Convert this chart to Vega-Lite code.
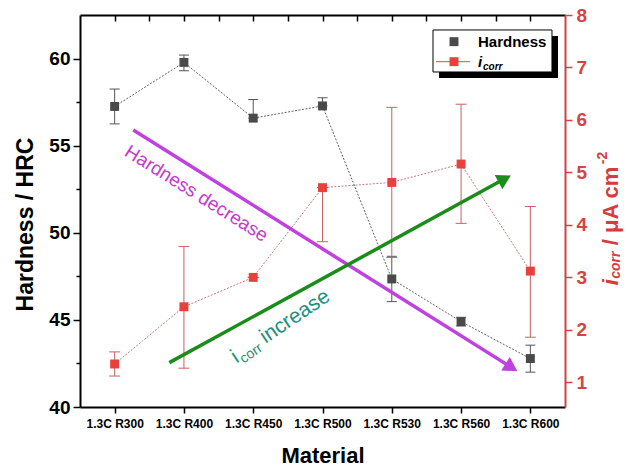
{
  "$schema": "https://vega.github.io/schema/vega-lite/v6.json",
  "width": 485,
  "height": 392,
  "autosize": "none",
  "padding": {"left": 80, "top": 15, "right": 62, "bottom": 61},
  "background": "white",
  "config": {"view": {"stroke": null}, "font": "Liberation Sans", "text": {"font": "Liberation Sans"}},
  "datasets": {
    "hard": [
      {"i": 0, "v": 57.25, "lo": 56.25, "hi": 58.25},
      {"i": 1, "v": 59.78, "lo": 59.3, "hi": 60.2},
      {"i": 2, "v": 56.58, "lo": 56.58, "hi": 57.65},
      {"i": 3, "v": 57.28, "lo": 57.28, "hi": 57.75},
      {"i": 4, "v": 47.35, "lo": 46.05, "hi": 48.65},
      {"i": 5, "v": 44.9, "lo": 44.65, "hi": 45.15},
      {"i": 6, "v": 42.78, "lo": 42.0, "hi": 43.55}
    ],
    "icorr": [
      {"i": 0, "v": 1.35, "lo": 1.12, "hi": 1.58},
      {"i": 1, "v": 2.44, "lo": 1.27, "hi": 3.59},
      {"i": 2, "v": 3.0, "lo": 3.0, "hi": 3.0},
      {"i": 3, "v": 4.71, "lo": 3.68, "hi": 4.71},
      {"i": 4, "v": 4.81, "lo": 3.38, "hi": 6.24},
      {"i": 5, "v": 5.16, "lo": 4.03, "hi": 6.3},
      {"i": 6, "v": 3.12, "lo": 1.86, "hi": 4.35}
    ]
  },
  "layer": [
    {
      "layer": [
        {
          "data": {"name": "hard"},
          "mark": {"type": "line", "color": "#3a3a3a", "strokeWidth": 0.8, "strokeDash": [2, 1.5]},
          "encoding": {
            "x": {"field": "i", "type": "quantitative", "scale": {"domain": [-0.5, 6.5], "nice": false, "zero": false},
              "axis": {"orient": "bottom", "title": "Material", "values": [0, 1, 2, 3, 4, 5, 6],
                "labelExpr": "['1.3C R300','1.3C R400','1.3C R450','1.3C R500','1.3C R530','1.3C R560','1.3C R600'][datum.value]",
                "labelFontSize": 12, "labelFontWeight": "bold", "labelColor": "#000", "labelPadding": 5, "labelFlush": false, "labelOverlap": false, "labelBound": false,
                "tickSize": 6, "tickColor": "#000", "tickWidth": 1.5, "domainColor": "#000", "domainWidth": 2, "grid": false,
                "titleFontSize": 22, "titleFontWeight": "bold", "titleColor": "#000", "titleY": 48, "titleBaseline": "middle"}},
            "y": {"field": "v", "type": "quantitative", "scale": {"domain": [40, 62.5], "nice": false, "zero": false},
              "axis": {"orient": "left", "title": "Hardness / HRC", "values": [40, 42.5, 45, 47.5, 50, 52.5, 55, 57.5, 60],
                "labelExpr": "datum.value % 5 === 0 ? datum.label : ''",
                "labelFontSize": 19, "labelFontWeight": "bold", "labelColor": "#000", "labelPadding": 3, "labelFlush": false, "labelOverlap": false, "labelBound": false,
                "tickSize": {"condition": {"test": "datum.value % 5 === 0", "value": 7}, "value": 4},
                "tickColor": "#000", "tickWidth": 1.5, "domainColor": "#000", "domainWidth": 2, "grid": false,
                "titleFontSize": 23, "titleFontWeight": "bold", "titleColor": "#000", "titleX": -55, "titleY": 209, "titleBaseline": "middle"}}
          }
        },
        {
          "data": {"name": "hard"},
          "mark": {"type": "rule", "color": "#555555", "strokeWidth": 1},
          "encoding": {"x": {"field": "i", "type": "quantitative"}, "y": {"field": "lo", "type": "quantitative"}, "y2": {"field": "hi"}}
        },
        {
          "data": {"name": "hard"},
          "mark": {"type": "tick", "orient": "horizontal", "size": 10, "thickness": 1, "color": "#555555", "opacity": 1},
          "encoding": {"x": {"field": "i", "type": "quantitative"}, "y": {"field": "lo", "type": "quantitative"}}
        },
        {
          "data": {"name": "hard"},
          "mark": {"type": "tick", "orient": "horizontal", "size": 10, "thickness": 1, "color": "#555555", "opacity": 1},
          "encoding": {"x": {"field": "i", "type": "quantitative"}, "y": {"field": "hi", "type": "quantitative"}}
        },
        {
          "data": {"name": "hard"},
          "mark": {"type": "square", "size": 80, "color": "#4a4a4a", "opacity": 1},
          "encoding": {"x": {"field": "i", "type": "quantitative"}, "y": {"field": "v", "type": "quantitative"}}
        },
        {
          "data": {"values": [{"x": 0.269, "y": 55.9, "x2": 5.727, "y2": 42.27}]},
          "mark": {"type": "rule", "color": "#c040e0", "strokeWidth": 3.5},
          "encoding": {"x": {"field": "x", "type": "quantitative"}, "y": {"field": "y", "type": "quantitative"}, "x2": {"field": "x2"}, "y2": {"field": "y2"}}
        },
        {
          "data": {"values": [{"x": 5.727, "y": 42.27}]},
          "mark": {"type": "point", "shape": "triangle-right", "filled": true, "size": 260, "angle": 32, "color": "#c040e0", "opacity": 1},
          "encoding": {"x": {"field": "x", "type": "quantitative"}, "y": {"field": "y", "type": "quantitative"}}
        },
        {
          "data": {"values": [{"x": 1.18, "y": 52.25, "t": "Hardness decrease"}]},
          "mark": {"type": "text", "angle": 32, "fontSize": 19, "color": "#c838d0", "align": "center", "baseline": "middle"},
          "encoding": {"x": {"field": "x", "type": "quantitative"}, "y": {"field": "y", "type": "quantitative"}, "text": {"field": "t"}}
        },
        {
          "data": {"values": [{"x": 4.682, "x2": 6.399, "y": 58.89, "y2": 61.3}]},
          "mark": {"type": "rect", "color": "#000000", "opacity": 1},
          "encoding": {"x": {"field": "x", "type": "quantitative"}, "x2": {"field": "x2"}, "y": {"field": "y", "type": "quantitative"}, "y2": {"field": "y2"}}
        },
        {
          "data": {"values": [{"x": 4.595, "x2": 6.312, "y": 59.23, "y2": 61.64}]},
          "mark": {"type": "rect", "fill": "#ffffff", "stroke": "#000000", "strokeWidth": 1, "opacity": 1},
          "encoding": {"x": {"field": "x", "type": "quantitative"}, "x2": {"field": "x2"}, "y": {"field": "y", "type": "quantitative"}, "y2": {"field": "y2"}}
        },
        {
          "data": {"values": [{"x": 4.638, "x2": 5.128, "y": 59.82}]},
          "mark": {"type": "rule", "color": "#d05050", "strokeWidth": 1},
          "encoding": {"x": {"field": "x", "type": "quantitative"}, "x2": {"field": "x2"}, "y": {"field": "y", "type": "quantitative"}}
        },
        {
          "data": {"values": [{"x": 4.898, "y": 60.97, "s": "Hardness"}, {"x": 4.898, "y": 59.82, "s": "icorr"}]},
          "mark": {"type": "square", "size": 80, "opacity": 1},
          "encoding": {"x": {"field": "x", "type": "quantitative"}, "y": {"field": "y", "type": "quantitative"},
            "color": {"field": "s", "type": "nominal", "scale": {"domain": ["Hardness", "icorr"], "range": ["#4a4a4a", "#e8403c"]}, "legend": null}}
        },
        {
          "data": {"values": [{"x": 5.244, "y": 60.97, "t": "Hardness"}]},
          "mark": {"type": "text", "fontSize": 15, "fontWeight": "bold", "color": "#000", "align": "left", "baseline": "middle"},
          "encoding": {"x": {"field": "x", "type": "quantitative"}, "y": {"field": "y", "type": "quantitative"}, "text": {"field": "t"}}
        },
        {
          "data": {"values": [{"x": 5.244, "y": 59.82, "t": "i"}]},
          "mark": {"type": "text", "fontSize": 15, "fontWeight": "bold", "fontStyle": "italic", "color": "#000", "align": "left", "baseline": "middle"},
          "encoding": {"x": {"field": "x", "type": "quantitative"}, "y": {"field": "y", "type": "quantitative"}, "text": {"field": "t"}}
        },
        {
          "data": {"values": [{"x": 5.244, "y": 59.82, "t": "corr"}]},
          "mark": {"type": "text", "fontSize": 10, "fontWeight": "bold", "fontStyle": "italic", "color": "#000", "align": "left", "baseline": "middle", "dx": 5, "dy": 5},
          "encoding": {"x": {"field": "x", "type": "quantitative"}, "y": {"field": "y", "type": "quantitative"}, "text": {"field": "t"}}
        }
      ]
    },
    {
      "layer": [
        {
          "data": {"name": "icorr"},
          "mark": {"type": "line", "color": "#b85a5a", "strokeWidth": 0.8, "strokeDash": [2, 1.5]},
          "encoding": {
            "x": {"field": "i", "type": "quantitative", "scale": {"domain": [-0.5, 6.5], "nice": false, "zero": false},
              "axis": {"orient": "top", "title": null, "values": [0, 0.5, 1, 1.5, 2, 2.5, 3, 3.5, 4, 4.5, 5, 5.5, 6], "labels": false,
                "tickSize": -6, "tickColor": "#000", "tickWidth": 1.5, "domainColor": "#000", "domainWidth": 2, "grid": false}},
            "y": {"field": "v", "type": "quantitative", "scale": {"domain": [0.53, 8], "nice": false, "zero": false},
              "axis": {"orient": "right", "title": null, "values": [1, 1.5, 2, 2.5, 3, 3.5, 4, 4.5, 5, 5.5, 6, 6.5, 7, 7.5, 8],
                "labelExpr": "datum.value % 1 === 0 ? datum.label : ''",
                "labelFontSize": 19, "labelFontWeight": "bold", "labelColor": "#d44444", "labelPadding": 4, "labelFlush": false, "labelOverlap": false, "labelBound": false,
                "tickSize": {"condition": {"test": "datum.value % 1 === 0", "value": 7}, "value": 4},
                "tickColor": "#cc4444", "tickWidth": 1.5, "domainColor": "#cc4444", "domainWidth": 2, "grid": false}}
          }
        },
        {
          "data": {"name": "icorr"},
          "mark": {"type": "rule", "color": "#c96060", "strokeWidth": 1},
          "encoding": {"x": {"field": "i", "type": "quantitative"}, "y": {"field": "lo", "type": "quantitative"}, "y2": {"field": "hi"}}
        },
        {
          "data": {"name": "icorr"},
          "mark": {"type": "tick", "orient": "horizontal", "size": 11, "thickness": 1, "color": "#c96060", "opacity": 1},
          "encoding": {"x": {"field": "i", "type": "quantitative"}, "y": {"field": "lo", "type": "quantitative"}}
        },
        {
          "data": {"name": "icorr"},
          "mark": {"type": "tick", "orient": "horizontal", "size": 11, "thickness": 1, "color": "#c96060", "opacity": 1},
          "encoding": {"x": {"field": "i", "type": "quantitative"}, "y": {"field": "hi", "type": "quantitative"}}
        },
        {
          "data": {"name": "icorr"},
          "mark": {"type": "square", "size": 80, "color": "#e8403c", "opacity": 1},
          "encoding": {"x": {"field": "i", "type": "quantitative"}, "y": {"field": "v", "type": "quantitative"}}
        },
        {
          "data": {"values": [{"x": 0.789, "y": 1.375, "x2": 5.629, "y2": 4.879}]},
          "mark": {"type": "rule", "color": "#1a8c1a", "strokeWidth": 3.5},
          "encoding": {"x": {"field": "x", "type": "quantitative"}, "y": {"field": "y", "type": "quantitative"}, "x2": {"field": "x2"}, "y2": {"field": "y2"}}
        },
        {
          "data": {"values": [{"x": 5.629, "y": 4.879}]},
          "mark": {"type": "point", "shape": "triangle-right", "filled": true, "size": 260, "angle": 331.3, "color": "#1a8c1a", "opacity": 1},
          "encoding": {"x": {"field": "x", "type": "quantitative"}, "y": {"field": "y", "type": "quantitative"}}
        },
        {
          "data": {"values": [{"x": 1.76, "y": 1.36, "t": "i"}]},
          "mark": {"type": "text", "angle": 326, "fontSize": 21, "color": "#23907e", "align": "left", "baseline": "alphabetic"},
          "encoding": {"x": {"field": "x", "type": "quantitative"}, "y": {"field": "y", "type": "quantitative"}, "text": {"field": "t"}}
        },
        {
          "data": {"values": [{"x": 1.76, "y": 1.36, "t": "corr"}]},
          "mark": {"type": "text", "angle": 326, "fontSize": 14, "color": "#23907e", "align": "left", "baseline": "alphabetic", "dx": 5.5, "dy": 4},
          "encoding": {"x": {"field": "x", "type": "quantitative"}, "y": {"field": "y", "type": "quantitative"}, "text": {"field": "t"}}
        },
        {
          "data": {"values": [{"x": 1.76, "y": 1.36, "t": "increase"}]},
          "mark": {"type": "text", "angle": 326, "fontSize": 21, "color": "#23907e", "align": "left", "baseline": "alphabetic", "dx": 35},
          "encoding": {"x": {"field": "x", "type": "quantitative"}, "y": {"field": "y", "type": "quantitative"}, "text": {"field": "t"}}
        },
        {
          "data": {"values": [{"x": 7.17, "y": 2.85, "t": "i"}]},
          "mark": {"type": "text", "angle": 270, "fontSize": 22, "fontWeight": "bold", "fontStyle": "italic", "color": "#d63c3c", "align": "left", "baseline": "middle"},
          "encoding": {"x": {"field": "x", "type": "quantitative"}, "y": {"field": "y", "type": "quantitative"}, "text": {"field": "t"}}
        },
        {
          "data": {"values": [{"x": 7.17, "y": 2.85, "t": "corr"}]},
          "mark": {"type": "text", "angle": 270, "fontSize": 14, "fontWeight": "bold", "fontStyle": "italic", "color": "#d63c3c", "align": "left", "baseline": "middle", "dx": 6.5, "dy": 5},
          "encoding": {"x": {"field": "x", "type": "quantitative"}, "y": {"field": "y", "type": "quantitative"}, "text": {"field": "t"}}
        },
        {
          "data": {"values": [{"x": 7.17, "y": 2.85, "t": "/ μA cm"}]},
          "mark": {"type": "text", "angle": 270, "fontSize": 22, "fontWeight": "bold", "color": "#d63c3c", "align": "left", "baseline": "middle", "dx": 40},
          "encoding": {"x": {"field": "x", "type": "quantitative"}, "y": {"field": "y", "type": "quantitative"}, "text": {"field": "t"}}
        },
        {
          "data": {"values": [{"x": 7.17, "y": 2.85, "t": "-2"}]},
          "mark": {"type": "text", "angle": 270, "fontSize": 14, "fontWeight": "bold", "color": "#d63c3c", "align": "left", "baseline": "middle", "dx": 121, "dy": -8},
          "encoding": {"x": {"field": "x", "type": "quantitative"}, "y": {"field": "y", "type": "quantitative"}, "text": {"field": "t"}}
        }
      ]
    }
  ],
  "resolve": {"scale": {"y": "independent"}, "axis": {"x": "independent", "y": "independent"}}
}
